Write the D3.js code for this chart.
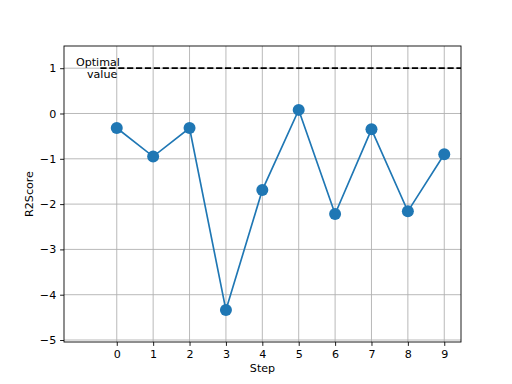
<!DOCTYPE html>
<html><head><meta charset="utf-8">
<script src="https://cdn.jsdelivr.net/npm/d3@7"></script>
<style>body{margin:0;background:#fff}svg{display:block}text{font-family:"DejaVu Sans",sans-serif;font-size:11.1px;fill:#000}</style>
</head><body><svg id="c" width="512" height="384"></svg>
<script>
const steps = [0,1,2,3,4,5,6,7,8,9];
const r2scores = [-0.32,-0.95,-0.32,-4.34,-1.69,0.08,-2.22,-0.35,-2.16,-0.90];
const xTicks = [0,1,2,3,4,5,6,7,8,9];
const yTicks = [-5,-4,-3,-2,-1,0,1];
const optimalValue = 1;
const optimalStart = -0.45;

const svg = d3.select("#c");
const L=64,R=461,T=46,B=342;
const x = d3.scaleLinear().domain([-1.45,9.46]).range([L,R]);
const y = d3.scaleLinear().domain([-5.044,1.49]).range([B,T]);
const fmt = d => d3.format("d")(d);

// grid
svg.append("g").selectAll("line").data(xTicks).join("line")
  .attr("x1",d=>x(d)).attr("x2",d=>x(d)).attr("y1",T).attr("y2",B)
  .attr("stroke","#b0b0b0").attr("stroke-width",0.89);
svg.append("g").selectAll("line").data(yTicks).join("line")
  .attr("x1",L).attr("x2",R).attr("y1",d=>y(d)).attr("y2",d=>y(d))
  .attr("stroke","#b0b0b0").attr("stroke-width",0.89);

// optimal line
svg.append("line").attr("x1",x(optimalStart)).attr("x2",R)
  .attr("y1",y(optimalValue)).attr("y2",y(optimalValue))
  .attr("stroke","#000").attr("stroke-width",1.67).attr("stroke-dasharray","6.2,2.7");
svg.append("text").attr("x",76).attr("y",66).text("Optimal");
svg.append("text").attr("x",87).attr("y",77.5).text("value");

// series
svg.append("path").datum(steps.map((s,i)=>[s,r2scores[i]]))
  .attr("d",d3.line().x(d=>x(d[0])).y(d=>y(d[1])))
  .attr("fill","none").attr("stroke","#1f77b4").attr("stroke-width",1.67);
svg.append("g").selectAll("circle").data(steps).join("circle")
  .attr("cx",d=>x(d)).attr("cy",(d,i)=>y(r2scores[i])).attr("r",6)
  .attr("fill","#1f77b4");

// axes
const xa = svg.append("g").attr("transform",`translate(0,${B})`)
  .call(d3.axisBottom(x).tickValues(xTicks).tickFormat(fmt).tickSize(3.9).tickPadding(3.9));
const ya = svg.append("g").attr("transform",`translate(${L},0)`)
  .call(d3.axisLeft(y).tickValues(yTicks).tickFormat(fmt).tickSize(3.9).tickPadding(3.9));
[xa,ya].forEach(a=>{a.select(".domain").remove();a.selectAll("line").attr("stroke","#000").attr("stroke-width",0.89);
  a.selectAll("text").attr("font-family","DejaVu Sans").attr("font-size","11.1px").attr("fill","#000");});

// spines
svg.append("rect").attr("x",L).attr("y",T).attr("width",R-L).attr("height",B-T)
  .attr("fill","none").attr("stroke","#000").attr("stroke-width",0.89);

svg.append("text").attr("x",(L+R)/2).attr("y",371.5).attr("text-anchor","middle").text("Step");
svg.append("text").attr("transform",`translate(33,${(T+B)/2}) rotate(-90)`).attr("text-anchor","middle").text("R2Score");
</script></body></html>
